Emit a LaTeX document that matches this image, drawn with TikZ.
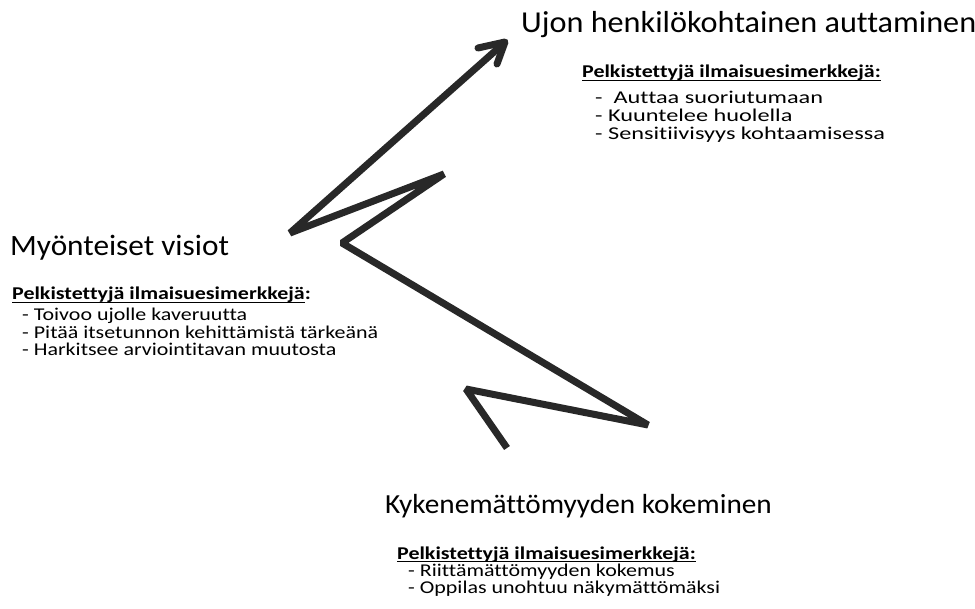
\documentclass[tikz,border=0pt]{standalone}
\usepackage{fontspec}
\setmainfont{Carlito}[Ligatures=NoCommon]
\newfontfamily\titf{Carlito}[FakeStretch=1.06,Ligatures=NoCommon]
\newfontfamily\subf{Carlito}[FakeStretch=1.35,Ligatures=NoCommon]
\newfontfamily\subfn{Carlito}[FakeStretch=1.22,Ligatures=NoCommon]
\newfontfamily\subbf{Carlito}[FakeStretch=1.22,Ligatures=NoCommon]
\newcommand{\ulx}[1]{\setbox0\hbox{#1}\rlap{\rule[-3pt]{\wd0}{1.3pt}}\box0}
\definecolor{zz}{RGB}{40,40,40}
\begin{document}
\begin{tikzpicture}[x=1pt,y=-1pt,
  title/.style={anchor=base west,inner sep=0pt},
  sub/.style={anchor=base west,inner sep=0pt,font=\subf\fontsize{18}{18}\selectfont},
  subn/.style={anchor=base west,inner sep=0pt,font=\subfn\fontsize{18}{18}\selectfont},
  head/.style={anchor=base west,inner sep=0pt,font=\subbf\bfseries\fontsize{18}{18}\selectfont},
  zig/.style={line width=7pt,draw=zz,line join=bevel,line cap=butt}]
\useasboundingbox (0,0) rectangle (975,609);
% texts
\node[title,font=\titf\fontsize{30.4}{34}\selectfont] (t1) at (521,33) {Ujon henkilökohtainen auttaminen};
\node[head] (h1) at (582,78) {\ulx{Pelkistettyjä ilmaisuesimerkkejä:}};
\node[sub] (a1) at (595,104) {-\ \ Auttaa suoriutumaan};
\node[sub] (a2) at (595,122) {- Kuuntelee huolella};
\node[sub] (a3) at (595,140) {- Sensitiivisyys kohtaamisessa};

\node[title,font=\titf\fontsize{29.5}{34}\selectfont] (t2) at (10,256) {Myönteiset visiot};
\node[head] (h2) at (12,300) {\ulx{Pelkistettyjä ilmaisuesimerkkejä}:};
\node[subn] (b1) at (22,321) {- Toivoo ujolle kaveruutta};
\node[subn] (b2) at (22,339) {- Pitää itsetunnon kehittämistä tärkeänä};
\node[subn] (b3) at (22,356) {- Harkitsee arviointitavan muutosta};

\node[title,font=\titf\fontsize{27.6}{32}\selectfont] (t3) at (385,514) {Kykenemättömyyden kokeminen};
\node[head] (h3) at (397,559) {\ulx{Pelkistettyjä ilmaisuesimerkkejä:}};
\node[subn] (c1) at (408,576) {- Riittämättömyyden kokemus};
\node[subn] (c2) at (408,593) {- Oppilas unohtuu näkymättömäksi};

% zigzag arrow
\coordinate (p0) at (507,448);
\coordinate (p1) at (466,389);
\coordinate (p2) at (648,425);
\coordinate (p3) at (342,243);
\coordinate (p4) at (444,174);
\coordinate (p5) at (290,233);
\coordinate (p6) at (503,44);
\coordinate (tip) at (505,42);
\coordinate (w1) at (478,48);
\coordinate (w2) at (497,64);
\draw[zig] (p0) -- (p1) -- (p2) -- (p3) -- (p4) -- (p5) -- (p6);
\draw[zig,line cap=round,line join=round] (w1) -- (tip) -- (w2);
\end{tikzpicture}
\end{document}
